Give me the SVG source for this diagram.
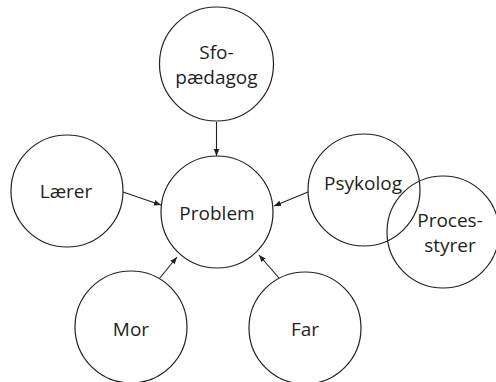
<svg xmlns="http://www.w3.org/2000/svg" width="496" height="382" viewBox="0 0 496 382">
  <style>
    .node circle { fill: #ffffff; stroke: #231f20; stroke-width: 1.2; }
    .node text { font-family: "Open Sans", "Noto Sans", sans-serif; font-size: 19px; fill: #231f20; text-anchor: middle; }
    .edge { stroke: #231f20; stroke-width: 1.1; fill: none; marker-end: url(#arrow); }
  </style>
  <defs>
    <marker id="arrow" viewBox="0 0 10 10" refX="10" refY="5" markerWidth="7" markerHeight="7" markerUnits="userSpaceOnUse" orient="auto">
      <path d="M0,1 L10,5 L0,9 Z" fill="#231f20"/>
    </marker>
  </defs>

  <rect width="496" height="382" fill="#ffffff"/>

  <!-- connectors: everyone points at the central problem -->
  <g id="connectors">
    <line class="edge" x1="216.5" y1="122" x2="216.5" y2="156"/>
    <line class="edge" x1="123" y1="192" x2="161" y2="205"/>
    <line class="edge" x1="308" y1="192" x2="274" y2="206"/>
    <line class="edge" x1="159" y1="279" x2="177" y2="257"/>
    <line class="edge" x1="279" y1="278" x2="259" y2="255"/>
  </g>

  <g id="node-sfo" class="node">
    <circle cx="216.5" cy="64" r="57"/>
    <text x="216.5" y="58.5">Sfo-<tspan x="216.5" dy="25">pædagog</tspan></text>
  </g>

  <g id="node-problem" class="node">
    <circle cx="217" cy="212" r="56"/>
    <text x="217" y="220">Problem</text>
  </g>

  <g id="node-laerer" class="node">
    <circle cx="67" cy="191" r="56"/>
    <text x="66" y="198">Lærer</text>
  </g>

  <g id="node-psykolog" class="node">
    <circle cx="364" cy="190" r="56"/>
    <text x="363" y="190">Psykolog</text>
  </g>

  <!-- unfilled so the overlapping Psykolog outline stays visible -->
  <g id="node-processtyrer" class="node">
    <circle cx="443" cy="232" r="56" style="fill:none"/>
    <text x="450" y="227">Proces-<tspan x="450" dy="25">styrer</tspan></text>
  </g>

  <g id="node-mor" class="node">
    <circle cx="131" cy="327" r="56"/>
    <text x="131" y="336">Mor</text>
  </g>

  <g id="node-far" class="node">
    <circle cx="305" cy="328" r="56"/>
    <text x="305" y="336">Far</text>
  </g>
</svg>
